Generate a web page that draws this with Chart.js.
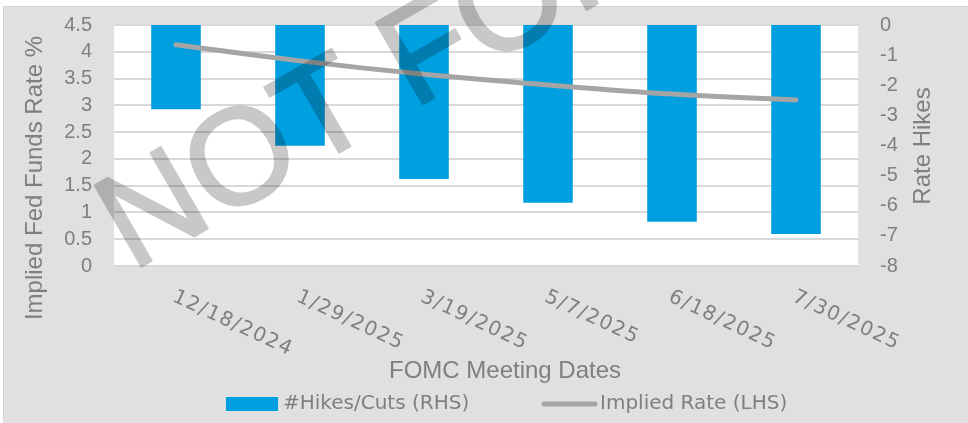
<!DOCTYPE html>
<html>
<head>
<meta charset="utf-8">
<script src="https://cdn.jsdelivr.net/npm/chart.js@4.4.1/dist/chart.umd.min.js"></script>
<style>
  html, body { margin: 0; padding: 0; background: #fff; }
  #wrap { width: 968px; height: 423px; }
</style>
</head>
<body>
<div id="wrap"><canvas id="chart" width="968" height="423"></canvas></div>
<script>
// data
const meetingDates = ["12/18/2024", "1/29/2025", "3/19/2025", "5/7/2025", "6/18/2025", "7/30/2025"];
const hikesCuts = [-2.80, -4.01, -5.11, -5.90, -6.53, -6.94];
const impliedRate = [4.13, 3.83, 3.58, 3.38, 3.21, 3.10];
const rateAxis = [0, 4.5, 0.5];   // min, max, step (LHS)
const hikesAxis = [-8, 0, 1];     // min, max, step (RHS)

const TEXT_GREY = "#7f7f7f";
const BAR_BLUE = "#009fdf";
const LINE_GREY = "#a5a5a5";
const PANEL = "#dfe0df";

const panelPlugin = {
    id: "panel",
    beforeDraw(chart) {
        const { ctx, chartArea: a } = chart;
        ctx.save();
        ctx.fillStyle = "#ffffff";
        ctx.fillRect(0, 0, chart.width, chart.height);
        ctx.fillStyle = PANEL;
        ctx.fillRect(3, 6, chart.width - 3, chart.height - 6);
        ctx.fillStyle = "#d2d3d2";
        ctx.fillRect(3, 6, 1, chart.height - 6);
        ctx.fillRect(3, 6, chart.width - 3, 1);
        ctx.fillStyle = "#ffffff";
        ctx.fillRect(a.left, a.top, a.right - a.left, a.bottom - a.top);
        ctx.restore();
    }
};

// watermark is drawn solid on its own canvas, then laid on with alpha
function watermark(w, h) {
    const c = document.createElement("canvas");
    c.width = w;
    c.height = h;
    const g = c.getContext("2d");
    g.translate(132, 272);
    g.rotate(-30 * Math.PI / 180);
    g.font = "136px 'Liberation Sans'";
    g.textAlign = "left";
    g.textBaseline = "alphabetic";
    g.fillStyle = "#000";
    g.strokeStyle = "#000";
    g.lineWidth = 2.5;
    g.lineJoin = "round";
    g.fillText("NOT FOR DISTRIBUTION", 0, 0);
    g.strokeText("NOT FOR DISTRIBUTION", 0, 0);
    return c;
}

const overlayPlugin = {
    id: "overlay",
    afterDraw(chart) {
        const { ctx } = chart;
        const xs = chart.scales.x;
        ctx.save();

        // rotated category labels
        ctx.fillStyle = TEXT_GREY;
        ctx.font = "20px 'DejaVu Sans'";
        ctx.letterSpacing = "1.5px";
        ctx.textAlign = "left";
        ctx.textBaseline = "top";
        meetingDates.forEach((d, i) => {
            ctx.save();
            ctx.translate(xs.getPixelForTick(i) + 2, 287);
            ctx.rotate(25 * Math.PI / 180);
            ctx.fillText(d, 0, 0);
            ctx.restore();
        });
        ctx.letterSpacing = "0px";

        // axis titles
        ctx.font = "24px 'Liberation Sans'";
        ctx.textAlign = "center";
        ctx.textBaseline = "middle";
        ctx.fillText("FOMC Meeting Dates", 505, 371);

        ctx.save();
        ctx.translate(35, 178);
        ctx.rotate(-Math.PI / 2);
        ctx.fillText("Implied Fed Funds Rate %", 0, 0);
        ctx.restore();

        ctx.save();
        ctx.translate(923, 146);
        ctx.rotate(-Math.PI / 2);
        ctx.fillText("Rate Hikes", 0, 0);
        ctx.restore();

        // legend
        const ds = chart.data.datasets;
        ctx.font = "20px 'DejaVu Sans'";
        ctx.textAlign = "left";
        ctx.fillStyle = ds[1].backgroundColor;
        ctx.fillRect(226, 397, 52, 14);
        ctx.fillStyle = TEXT_GREY;
        ctx.fillText(ds[1].label, 283, 404);
        ctx.strokeStyle = ds[0].borderColor;
        ctx.lineWidth = 5;
        ctx.lineCap = "round";
        ctx.beginPath();
        ctx.moveTo(544, 404);
        ctx.lineTo(595, 404);
        ctx.stroke();
        ctx.fillText(ds[0].label, 600, 404);

        ctx.globalAlpha = 0.21;
        ctx.drawImage(watermark(chart.width, chart.height), 0, 0);

        ctx.restore();
    }
};

const tickFont = { family: "'Liberation Sans'", size: 20 };

// fixed axis widths, and no extra room for the end labels
function fixWidth(w) {
    return s => {
        s.width = w;
        s.paddingTop = 0;
        s.paddingBottom = 0;
    };
}

new Chart(document.getElementById("chart"), {
    type: "bar",
    data: {
        labels: meetingDates,
        datasets: [
            {
                type: "line",
                label: "Implied Rate (LHS)",
                data: impliedRate,
                yAxisID: "yRate",
                borderColor: LINE_GREY,
                backgroundColor: LINE_GREY,
                borderWidth: 5,
                borderCapStyle: "round",
                pointRadius: 0,
                tension: 0.4
            },
            {
                type: "bar",
                label: "#Hikes/Cuts (RHS)",
                data: hikesCuts,
                yAxisID: "yHikes",
                backgroundColor: BAR_BLUE,
                barPercentage: 0.4,
                categoryPercentage: 1
            }
        ]
    },
    options: {
        responsive: false,
        animation: false,
        layout: { padding: { top: 25, bottom: 40, left: 0, right: 0 } },
        plugins: {
            legend: { display: false },
            tooltip: { enabled: false }
        },
        scales: {
            x: {
                grid: { display: false },
                border: { display: false },
                ticks: { display: false },
                afterFit: s => { s.height = 117; }
            },
            yRate: {
                position: "left",
                min: rateAxis[0],
                max: rateAxis[1],
                ticks: {
                    stepSize: rateAxis[2],
                    autoSkip: false,
                    padding: 22,
                    color: TEXT_GREY,
                    font: tickFont,
                    callback: v => String(v)
                },
                grid: { color: "#d9d9d9", lineWidth: 2, drawTicks: false },
                border: { display: false },
                afterFit: fixWidth(114)
            },
            yHikes: {
                position: "right",
                min: hikesAxis[0],
                max: hikesAxis[1],
                ticks: { stepSize: hikesAxis[2], autoSkip: false, padding: 22, color: TEXT_GREY, font: tickFont },
                grid: { display: false, drawTicks: false },
                border: { display: false },
                afterFit: fixWidth(110)
            }
        }
    },
    plugins: [panelPlugin, overlayPlugin]
});
</script>
</body>
</html>
